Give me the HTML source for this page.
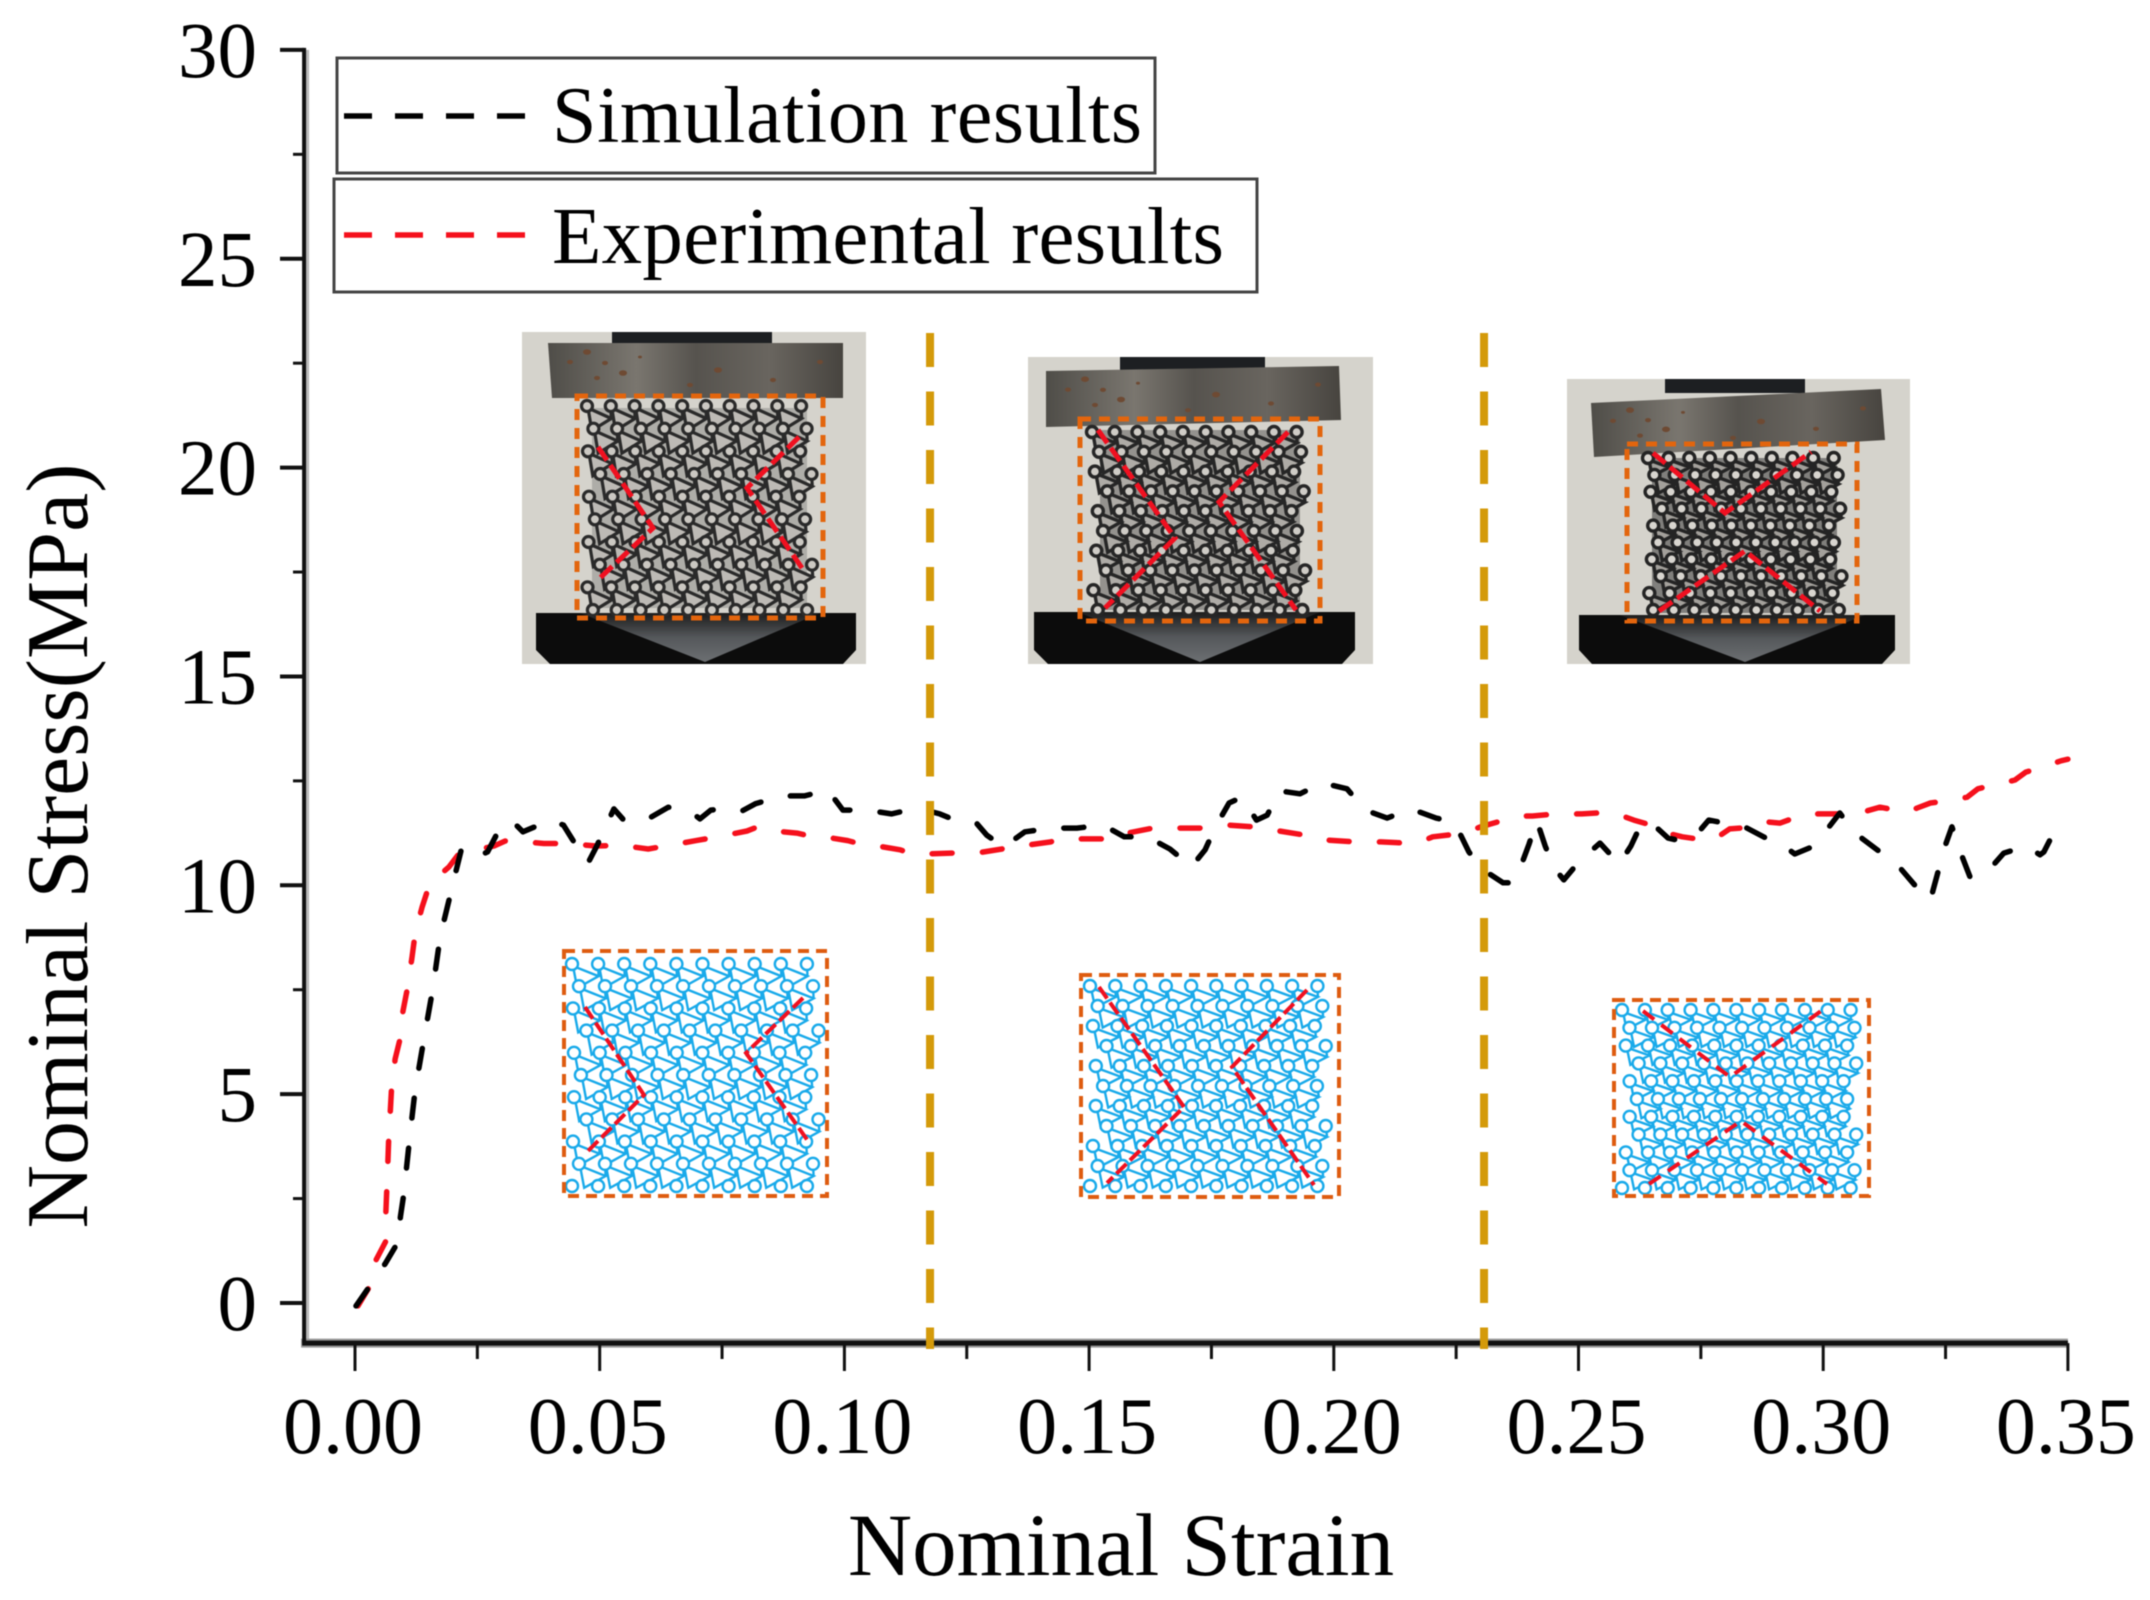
<!DOCTYPE html>
<html lang="en">
<head>
<meta charset="utf-8">
<title>Nominal stress-strain chart</title>
<style>
html,body{margin:0;padding:0;background:#fff;}
#chart{display:block;width:2150px;height:1600px;filter:blur(0.6px);}
text{font-family:"Liberation Serif",serif;fill:#000;}
</style>
</head>
<body>
<svg id="chart" xmlns="http://www.w3.org/2000/svg" width="2150" height="1600" viewBox="0 0 2150 1600">
<defs>
<linearGradient id="platenG" x1="0" y1="0" x2="1" y2="0">
<stop offset="0" stop-color="#4f4d48"/><stop offset=".3" stop-color="#7a766f"/><stop offset=".5" stop-color="#56534e"/><stop offset=".75" stop-color="#69655f"/><stop offset="1" stop-color="#47443f"/>
</linearGradient>
<linearGradient id="wedgeG" x1="0" y1="0" x2="0" y2="1">
<stop offset="0" stop-color="#1c1c1c"/><stop offset=".5" stop-color="#55585b"/><stop offset="1" stop-color="#6c6f72"/>
</linearGradient>
</defs>
<rect x="0" y="0" width="2150" height="1600" fill="#ffffff"/>

<g>
<rect x="522" y="332" width="344" height="332" fill="#d5d3cc"/>
<rect x="612" y="332" width="160" height="12" fill="#1d1f22"/>
<polygon points="548,343 843,343 843,398 552,398" fill="url(#platenG)"/>
<path id="sp1" fill="#6e4a33"/>
<polygon points="536,613 856,613 856,650 843,664 550,664 536,650" fill="#0c0c0c"/>
<polygon points="580,613 820,613 705,662" fill="url(#wedgeG)"/>
<rect x="592" y="408" width="215" height="200" fill="#3a3a3a" opacity=".25"/>
<path id="ph1t" fill="#bdbab5" stroke="#2a2a2a" stroke-width="3.2"/>
<path id="ph1c" fill="#cbc8c2" stroke="#2a2a2a" stroke-width="3.2"/>
<rect x="577" y="396" width="246" height="222" fill="none" stroke="#e3650d" stroke-width="5" stroke-dasharray="11 8"/>
<polyline points="598,447 653,528 600,578" fill="none" stroke="#f01020" stroke-width="5" stroke-dasharray="16 6"/>
<polyline points="799,437 747,488 802,568" fill="none" stroke="#f01020" stroke-width="5" stroke-dasharray="16 6"/>
</g>

<g>
<rect x="1028" y="357" width="345" height="307" fill="#d5d3cc"/>
<rect x="1120" y="357" width="145" height="14" fill="#1d1f22"/>
<polygon points="1046,371 1339,366 1341,420 1046,427" fill="url(#platenG)"/>
<path id="sp2" fill="#6e4a33"/>
<polygon points="1034,612 1355,612 1355,650 1342,664 1048,664 1034,650" fill="#0c0c0c"/>
<polygon points="1078,612 1320,612 1200,662" fill="url(#wedgeG)"/>
<rect x="1100" y="430" width="200" height="180" fill="#333" opacity=".4"/>
<path id="ph2t" fill="#aeaba6" stroke="#262626" stroke-width="3.4"/>
<path id="ph2c" fill="#cfccc6" stroke="#262626" stroke-width="3.4"/>
<rect x="1080" y="419" width="240" height="202" fill="none" stroke="#e3650d" stroke-width="5" stroke-dasharray="11 8"/>
<polyline points="1098,430 1175,538 1105,608" fill="none" stroke="#f01020" stroke-width="5" stroke-dasharray="16 6"/>
<polyline points="1288,432 1219,502 1296,610" fill="none" stroke="#f01020" stroke-width="5" stroke-dasharray="16 6"/>
</g>

<g>
<rect x="1567" y="379" width="343" height="285" fill="#d5d3cc"/>
<rect x="1665" y="379" width="140" height="14" fill="#1d1f22"/>
<polygon points="1591,403 1881,389 1885,440 1594,457" fill="url(#platenG)"/>
<path id="sp3" fill="#6e4a33"/>
<polygon points="1579,615 1895,615 1895,650 1882,664 1592,664 1579,650" fill="#0c0c0c"/>
<polygon points="1620,615 1865,615 1745,662" fill="url(#wedgeG)"/>
<rect x="1652" y="458" width="185" height="155" fill="#2c2c2c" opacity=".5"/>
<path id="ph3t" fill="#a3a09b" stroke="#242424" stroke-width="3.4"/>
<path id="ph3c" fill="#d8d5cf" stroke="#242424" stroke-width="3.4"/>
<rect x="1627" y="444" width="230" height="177" fill="none" stroke="#e3650d" stroke-width="5" stroke-dasharray="11 8"/>
<polyline points="1653,453 1725,513 1811,452" fill="none" stroke="#f01020" stroke-width="5" stroke-dasharray="16 6"/>
<polyline points="1659,611 1745,551 1820,611" fill="none" stroke="#f01020" stroke-width="5" stroke-dasharray="16 6"/>
</g>

<g>
<path id="fe1t" fill="none" stroke="#19aaea" stroke-width="2.4"/>
<path id="fe1c" fill="#fff" stroke="#19aaea" stroke-width="2.4"/>
<rect x="564" y="951" width="263" height="245" fill="none" stroke="#de5c10" stroke-width="4" stroke-dasharray="11 7"/>
<polyline points="585,1007 644,1095 588,1151" fill="none" stroke="#f01020" stroke-width="4" stroke-dasharray="14 5"/>
<polyline points="803,998 746,1053 808,1141" fill="none" stroke="#f01020" stroke-width="4" stroke-dasharray="14 5"/>
</g>
<g>
<path id="fe2t" fill="none" stroke="#19aaea" stroke-width="2.4"/>
<path id="fe2c" fill="#fff" stroke="#19aaea" stroke-width="2.4"/>
<rect x="1081" y="975" width="258" height="222" fill="none" stroke="#de5c10" stroke-width="4" stroke-dasharray="11 7"/>
<polyline points="1099,987 1184,1107 1107,1183" fill="none" stroke="#f01020" stroke-width="4" stroke-dasharray="14 5"/>
<polyline points="1307,990 1232,1067 1314,1185" fill="none" stroke="#f01020" stroke-width="4" stroke-dasharray="14 5"/>
</g>
<g>
<path id="fe3t" fill="none" stroke="#19aaea" stroke-width="2.4"/>
<path id="fe3c" fill="#fff" stroke="#19aaea" stroke-width="2.4"/>
<rect x="1614" y="1000" width="255" height="196" fill="none" stroke="#de5c10" stroke-width="4" stroke-dasharray="11 7"/>
<polyline points="1643,1011 1730,1077 1821,1011" fill="none" stroke="#f01020" stroke-width="4" stroke-dasharray="14 9"/>
<polyline points="1649,1184 1741,1121 1827,1184" fill="none" stroke="#f01020" stroke-width="4" stroke-dasharray="14 9"/>
</g>

<g id="axes"></g>
<g id="marks"></g>

<g>
<rect x="337" y="58" width="818" height="115" fill="#fff" stroke="#444" stroke-width="3"/>
<line x1="344" y1="116" x2="527" y2="116" stroke="#000" stroke-width="5.5" stroke-dasharray="28 23"/>
<text x="552" y="142" font-size="80" textLength="590" lengthAdjust="spacing">Simulation results</text>
<rect x="334" y="179" width="923" height="113" fill="#fff" stroke="#444" stroke-width="3"/>
<line x1="344" y1="235" x2="527" y2="235" stroke="#f5101c" stroke-width="5.5" stroke-dasharray="28 23"/>
<text x="552" y="263" font-size="81" textLength="672" lengthAdjust="spacing">Experimental results</text>
</g>

<text x="1121" y="1575" font-size="89" text-anchor="middle">Nominal Strain</text>
<text transform="translate(87,846) rotate(-90)" font-size="88" text-anchor="middle">Nominal Stress(MPa)</text>
</svg>

<script>
const strainTicks = [0, 0.05, 0.10, 0.15, 0.20, 0.25, 0.30, 0.35];
const strainTickLabels = ["0.00", "0.05", "0.10", "0.15", "0.20", "0.25", "0.30", "0.35"];
const strainMinorTicks = [0.025, 0.075, 0.125, 0.175, 0.225, 0.275, 0.325];
const stressTicks = [0, 5, 10, 15, 20, 25, 30];
const stressTickLabels = ["0", "5", "10", "15", "20", "25", "30"];
const stressMinorTicks = [2.5, 7.5, 12.5, 17.5, 22.5, 27.5];
const stageBoundaries = [0.1175, 0.2307];

const simStrain = [.0002,.0061,.0086,.0093,.0100,.0111,.0123,.0141,.0159,.0174,.0198,.0217,.0239,.0271,.0294,.0321,.0343,.0400,.0426,.0443,.0476,.0494,.0529,.0550,.0593,.0640,.0687,.0705,.0727,.0772,.0791,.0818,.0870,.0918,.0966,.0997,.1048,.1096,.1149,.1195,.1244,.1271,.1291,.1326,.1369,.1424,.1475,.1529,.1572,.1619,.1665,.1709,.1737,.1759,.1786,.1812,.1842,.1864,.1889,.1931,.1976,.2027,.2064,.2109,.2158,.2209,.2245,.2253,.2276,.2300,.2346,.2366,.2380,.2399,.2415,.2432,.2450,.2470,.2506,.2544,.2583,.2607,.2629,.2656,.2683,.2703,.2742,.2766,.2785,.2836,.2883,.2930,.2942,.2977,.3010,.3034,.3040,.3075,.3116,.3159,.3192,.3219,.3233,.3247,.3263,.3282,.3300,.3335,.3369,.3414,.3443,.3451,.3482,.3500];
const simStress = [-.07,.93,1.42,2.08,2.63,3.88,5.11,6.33,7.52,8.76,9.94,10.85,10.63,10.80,11.32,11.54,11.28,11.56,11.44,11.12,10.53,10.94,11.83,11.55,11.55,11.87,11.75,11.59,11.80,11.85,11.78,11.95,12.14,12.14,12.28,11.80,11.80,11.71,11.85,11.71,11.47,11.47,11.20,10.92,11.28,11.37,11.37,11.44,11.16,11.16,10.87,10.44,10.85,11.42,11.97,12.11,11.56,11.68,12.26,12.19,12.45,12.31,11.80,11.61,11.83,11.61,11.52,11.35,10.80,10.41,10.06,10.06,10.39,10.99,11.54,10.94,10.41,10.13,10.63,11.01,10.51,10.94,11.49,11.42,11.13,11.08,11.23,11.56,11.52,11.42,11.13,10.85,10.75,10.92,11.37,11.73,11.63,11.16,10.80,10.39,9.94,9.65,10.25,10.87,11.40,10.75,10.20,10.32,10.77,10.94,10.73,10.80,11.52,11.52];

const expStrain = [.0006,.0029,.0043,.0063,.0063,.0065,.0069,.0075,.0082,.0094,.0098,.0108,.0116,.0123,.0137,.0152,.0192,.0212,.0284,.0307,.0330,.0386,.0439,.0492,.0541,.0599,.0645,.0697,.0750,.0801,.0823,.0854,.0903,.0928,.0953,.1007,.1032,.1058,.1114,.1138,.1163,.1218,.1269,.1322,.1346,.1373,.1422,.1436,.1473,.1529,.1553,.1579,.1630,.1682,.1733,.1788,.1836,.1861,.1889,.1942,.1968,.1990,.2043,.2096,.2148,.2178,.2202,.2253,.2272,.2300,.2356,.2378,.2406,.2455,.2507,.2564,.2590,.2613,.2660,.2687,.2712,.2762,.2785,.2809,.2860,.2883,.2912,.2963,.3012,.3067,.3089,.3116,.3169,.3192,.3219,.3269,.3294,.3316,.3367,.3392,.3414,.3465,.3486,.3500];
const expStress = [-.07,.38,1.03,1.48,2.13,2.73,3.97,5.20,5.84,6.42,6.99,7.59,8.24,8.86,9.47,10.02,10.44,10.75,10.94,11.06,11.06,11.00,11.00,10.94,10.96,10.87,10.96,11.07,11.18,11.30,11.40,11.30,11.25,11.18,11.17,11.07,10.99,10.96,10.85,10.75,10.75,10.77,10.77,10.87,10.96,10.96,11.04,11.11,11.11,11.11,11.25,11.25,11.37,11.37,11.37,11.44,11.40,11.37,11.30,11.20,11.18,11.08,11.04,11.04,11.01,11.04,11.16,11.23,11.28,11.40,11.59,11.66,11.66,11.71,11.71,11.75,11.66,11.56,11.40,11.23,11.16,11.08,11.16,11.35,11.40,11.52,11.49,11.71,11.71,11.71,11.78,11.87,11.75,11.85,11.97,12.04,12.11,12.31,12.45,12.52,12.71,12.90,12.98,13.02];

const SVGNS = "http://www.w3.org/2000/svg";
function xScale(v){ return 355 + v * 4894; }
function yScale(v){ return 1303 - v * 41.77; }
function mk(parent, tag, attrs, txt){
  const el = document.createElementNS(SVGNS, tag);
  for (const k in attrs) el.setAttribute(k, attrs[k]);
  if (txt !== undefined) el.textContent = txt;
  parent.appendChild(el);
  return el;
}
const axes = document.getElementById("axes");
const marks = document.getElementById("marks");
const axisLeft = xScale(-0.0104);
const axisRight = xScale(0.35);
const axisTop = yScale(30);
const axisBottom = yScale(-0.96);

let el = mk(axes, "line", {x1:axisLeft+3.5, y1:axisTop, x2:axisLeft+3.5, y2:axisBottom, stroke:"#bbb", "stroke-width":3});


el = mk(axes, "line", {x1:axisLeft-3, y1:axisBottom, x2:axisRight, y2:axisBottom, stroke:"#999", "stroke-width":9});


el = mk(axes, "line", {x1:axisLeft, y1:axisTop-2, x2:axisLeft, y2:axisBottom, stroke:"#111", "stroke-width":4});


el = mk(axes, "line", {x1:axisLeft-2, y1:axisBottom, x2:axisRight, y2:axisBottom, stroke:"#111", "stroke-width":5});



strainTicks.forEach(function(v, i){
  const t = mk(axes, "line", {x1:xScale(v), y1:axisBottom, x2:xScale(v), y2:1371, stroke:"#111", "stroke-width":3});
  
  
  const l = mk(axes, "text", {x:xScale(v)-2, y:1453, "font-size":80, "text-anchor":"middle"}, strainTickLabels[i]);
  
  
});
strainMinorTicks.forEach(function(v){
  const t = mk(axes, "line", {x1:xScale(v), y1:axisBottom, x2:xScale(v), y2:1359, stroke:"#111", "stroke-width":3});
  
  
});
stressTicks.forEach(function(v, i){
  const t = mk(axes, "line", {x1:280, y1:yScale(v), x2:axisLeft, y2:yScale(v), stroke:"#111", "stroke-width":4});
  
  
  const l = mk(axes, "text", {x:257, y:yScale(v)+27, "font-size":79, "text-anchor":"end"}, stressTickLabels[i]);
  
  
});
stressMinorTicks.forEach(function(v){
  const t = mk(axes, "line", {x1:293, y1:yScale(v), x2:axisLeft, y2:yScale(v), stroke:"#111", "stroke-width":3});
  
  
});

/* walk the series through the axis functions and lay the dashes out explicitly */
function dashedPath(xs, ys, dash, gap){
  let px = xScale(xs[0]), py = yScale(ys[0]);
  let d = "M" + px.toFixed(1) + " " + py.toFixed(1);
  let on = true, remain = dash;
  for (let i = 1; i < xs.length; i++) {
    const nx = xScale(xs[i]), ny = yScale(ys[i]);
    const seg = Math.hypot(nx - px, ny - py);
    let t = 0;
    while (seg - t > remain) {
      t += remain;
      const qx = px + (nx - px) * t / seg, qy = py + (ny - py) * t / seg;
      d += (on ? "L" : "M") + qx.toFixed(1) + " " + qy.toFixed(1);
      on = !on;
      remain = on ? dash : gap;
    }
    remain -= seg - t;
    if (on) d += "L" + nx.toFixed(1) + " " + ny.toFixed(1);
    px = nx;
    py = ny;
  }
  return d;
}
const expLine = mk(marks, "path", {d:dashedPath(expStrain, expStress, 20, 30.3), fill:"none", stroke:"#f5101c", "stroke-width":5.5, "stroke-linecap":"round", "stroke-linejoin":"round"});


const simLine = mk(marks, "path", {d:dashedPath(simStrain, simStress, 20, 30.3), fill:"none", stroke:"#000", "stroke-width":5.5, "stroke-linecap":"round", "stroke-linejoin":"round"});



stageBoundaries.forEach(function(v){
  const b = mk(marks, "line", {x1:xScale(v), y1:333, x2:xScale(v), y2:1349, stroke:"#d49a0a", "stroke-width":8, "stroke-dasharray":"34 24.5"});
  
  
});

/* decorative lattice specimens inside the inset pictures */
function lattice(idT, idC, x0, y0, w, h, cols, rows, r, pinch){
  const dx = w / (cols - 0.5), dy = h / (rows - 1);
  const cx = x0 + w / 2;
  function node(i, j){
    const v = j / (rows - 1);
    const s = 1 - pinch * (1 - Math.abs(2 * v - 1));
    let x = x0 + i * dx + (j % 2 ? dx * 0.5 : 0) - (j % 4 === 1 ? dx * 0.25 : 0);
    x = cx + (x - cx) * s;
    return [x, y0 + j * dy];
  }
  let t = "", c = "";
  for (let j = 0; j < rows; j++) {
    for (let i = 0; i < cols; i++) {
      const p = node(i, j);
      if (j < rows - 1 && i < cols - 1) {
        const q = node(i + 1, j);
        const a = [p[0] + 1, p[1] + 2];
        const b = [p[0] + dx * 0.2, p[1] + dy * 1.08];
        const e = [p[0] + dx * 1.02, p[1] + dy * 0.55];
        t += "M" + a[0].toFixed(1) + " " + a[1].toFixed(1) + "L" + b[0].toFixed(1) + " " + b[1].toFixed(1) + "L" + e[0].toFixed(1) + " " + e[1].toFixed(1) + "Z";
        t += "M" + e[0].toFixed(1) + " " + e[1].toFixed(1) + "L" + q[0].toFixed(1) + " " + q[1].toFixed(1);
      }
      c += "M" + (p[0] - r).toFixed(1) + " " + p[1].toFixed(1) + "a" + r + " " + r + " 0 1 0 " + (2 * r) + " 0a" + r + " " + r + " 0 1 0 " + (-2 * r) + " 0Z";
    }
  }
  document.getElementById(idT).setAttribute("d", t);
  document.getElementById(idC).setAttribute("d", c);
}
lattice("ph1t", "ph1c", 587, 406, 226, 204, 10, 10, 5.5, 0.02);
lattice("ph2t", "ph2c", 1092, 432, 216, 178, 10, 10, 5.5, 0.06);
lattice("ph3t", "ph3c", 1648, 458, 196, 152, 10, 10, 5.5, 0.06);
lattice("fe1t", "fe1c", 572, 964, 248, 222, 10, 11, 6, 0.02);
lattice("fe2t", "fe2c", 1090, 986, 240, 200, 10, 11, 6, 0.06);
lattice("fe3t", "fe3c", 1622, 1010, 240, 178, 11, 11, 6, 0.08);

function specks(id, ox, oy, tilt){
  const base = [[587,352,4],[570,362,3],[623,373,4],[605,363,3],[718,370,4],[820,362,3],[597,378,3],[773,380,3],[640,357,2],[690,385,3]];
  let d = "";
  base.forEach(function(s){
    const x = s[0] + ox;
    const y = s[1] + oy - (s[0] - 548) * tilt;
    d += "M" + (x - s[2]) + " " + y.toFixed(1) + "a" + s[2] + " " + (s[2] * 0.7) + " 0 1 0 " + (2 * s[2]) + " 0a" + s[2] + " " + (s[2] * 0.7) + " 0 1 0 " + (-2 * s[2]) + " 0Z";
  });
  document.getElementById(id).setAttribute("d", d);
}
specks("sp1", 0, 0, 0);
specks("sp2", 498, 28, 0.02);
specks("sp3", 1043, 60, 0.05);
</script>
</body>
</html>
